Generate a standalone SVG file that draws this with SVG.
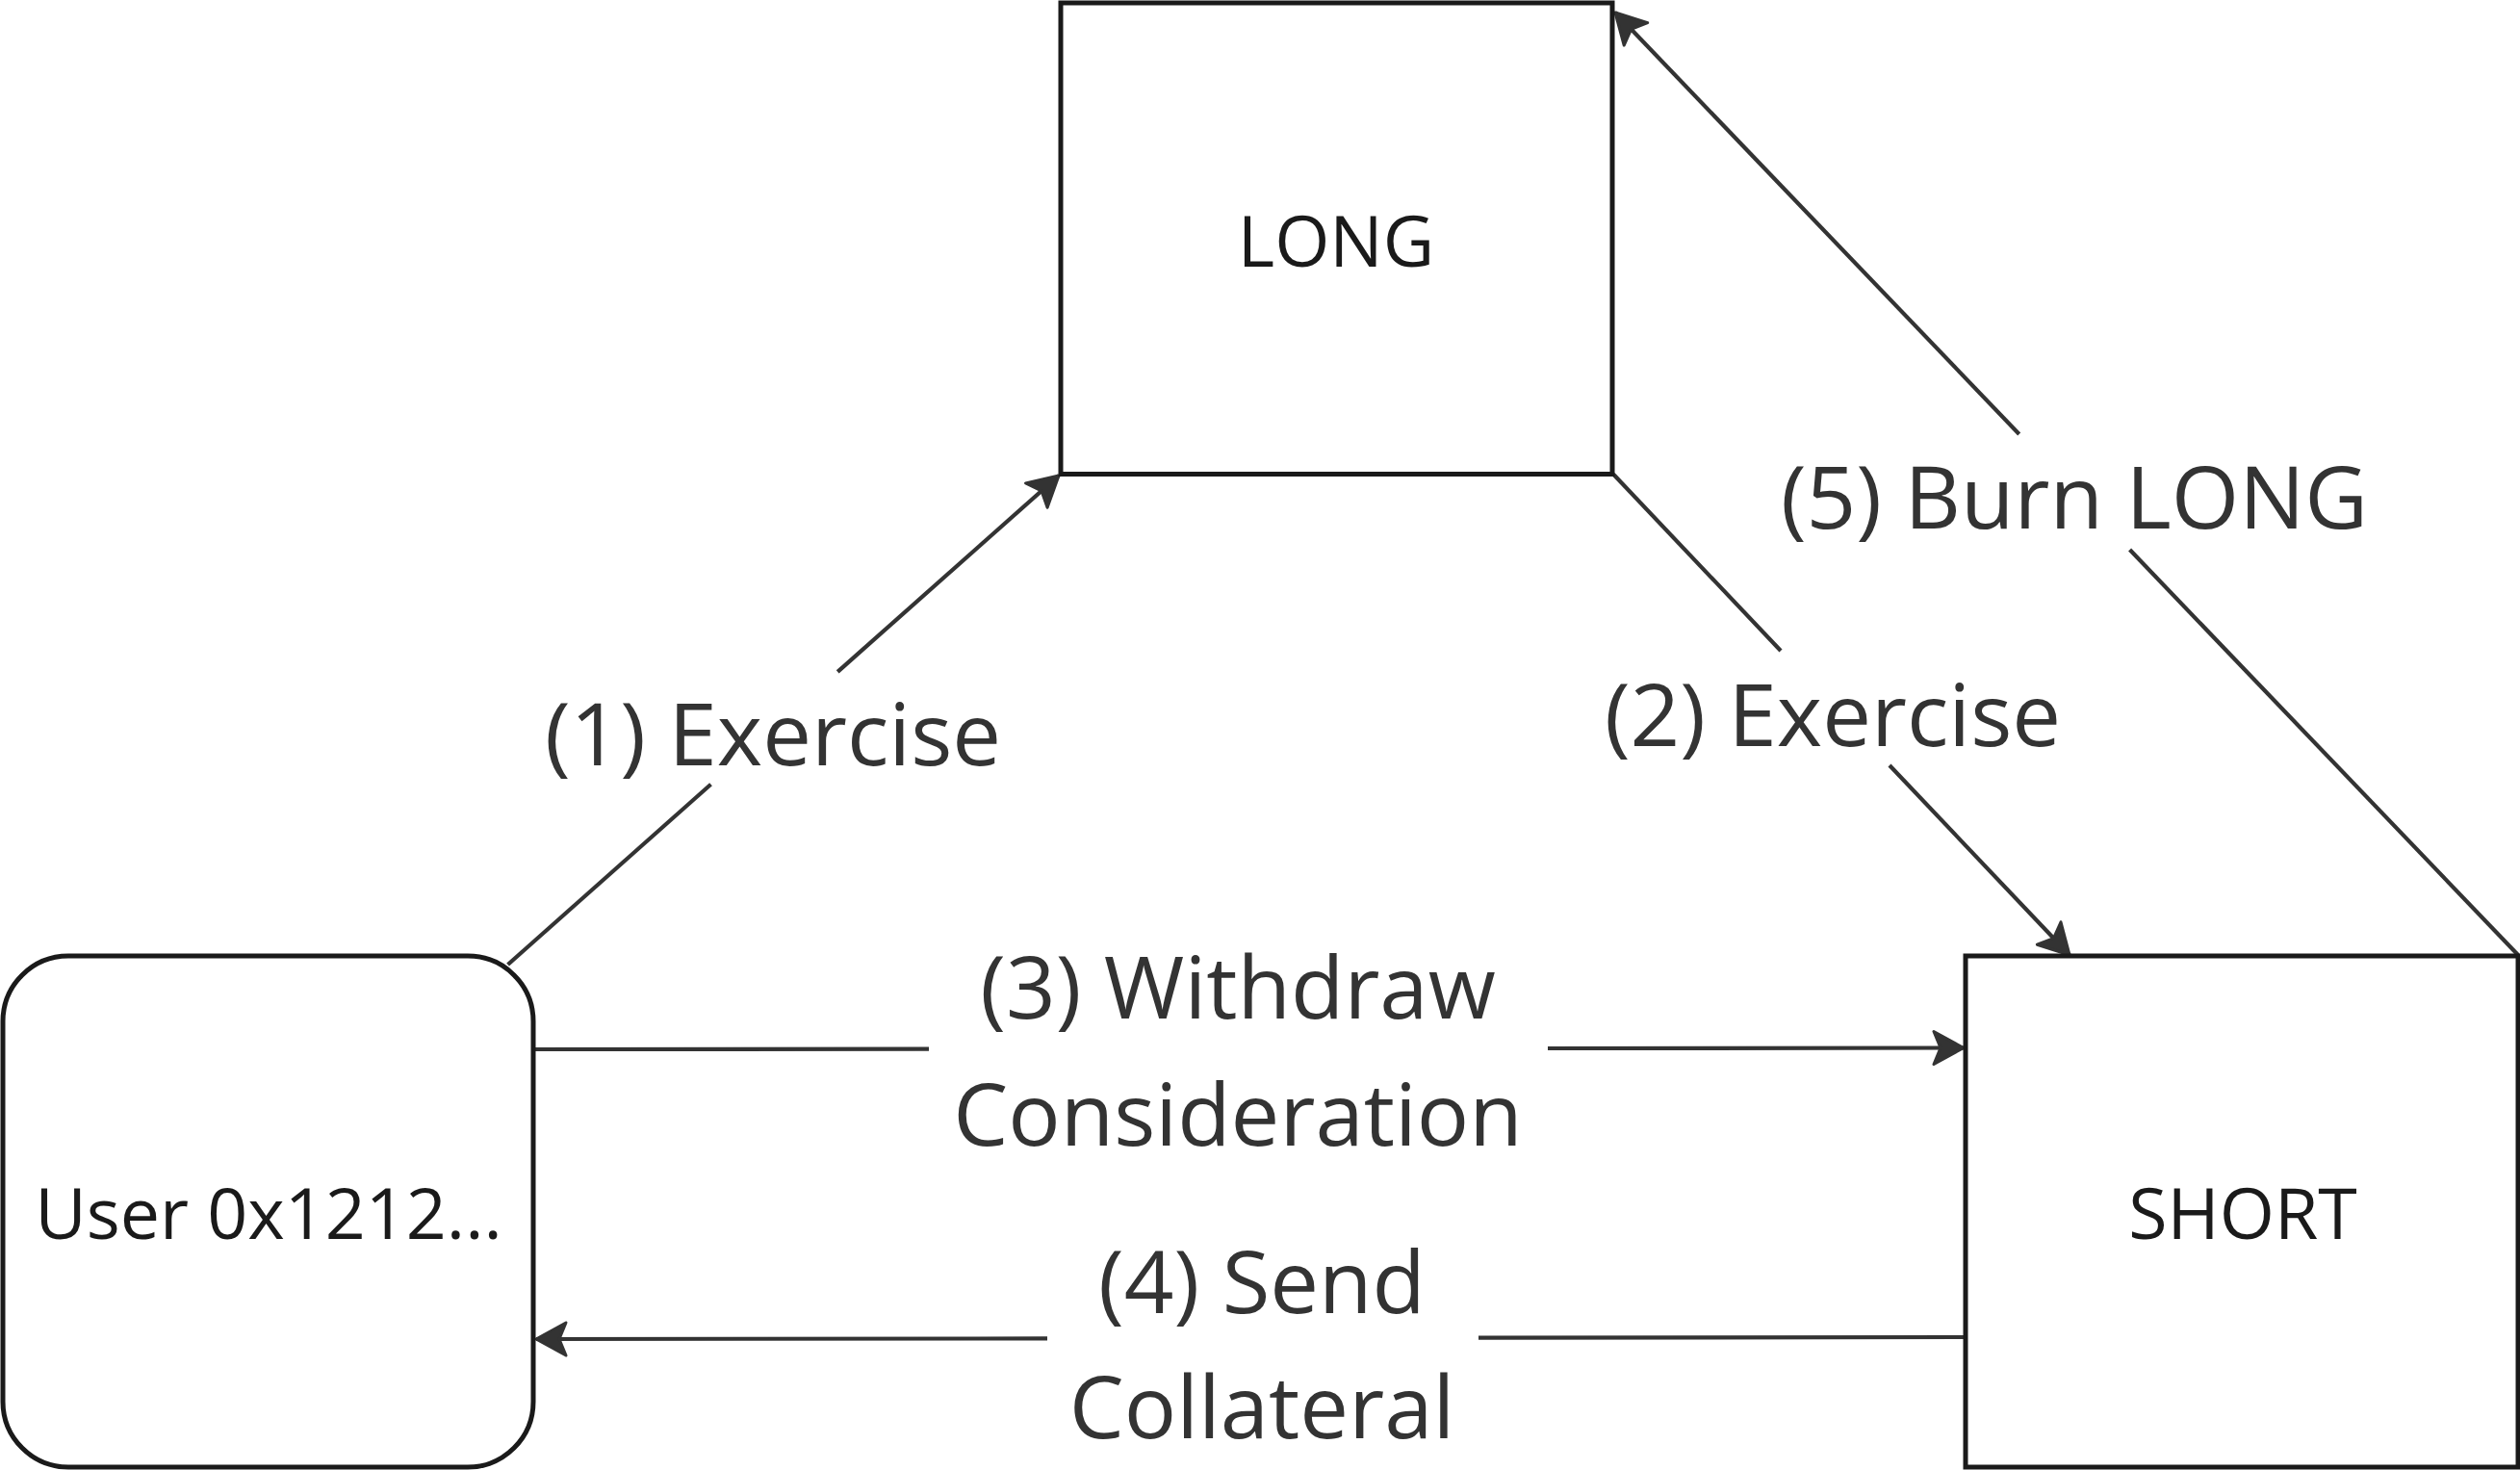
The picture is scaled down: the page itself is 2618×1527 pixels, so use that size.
<svg xmlns="http://www.w3.org/2000/svg" width="2618" height="1527" viewBox="0 0 2618 1527">
<style>
.node{fill:#ffffff;stroke:#1a1a1a;stroke-width:5}
.ntext{font-family:"Open Sans","Noto Sans",sans-serif;font-size:73.5px;fill:#1a1a1a;text-anchor:middle}
.edge{fill:none;stroke:#333333;stroke-width:4.2}
.ltext{font-family:"Open Sans","Noto Sans",sans-serif;font-size:90.5px;fill:#333333;text-anchor:middle}
</style>
<defs>
<marker id="arrow" viewBox="-36 -21 40 42" refX="0" refY="0" markerWidth="40" markerHeight="42" markerUnits="userSpaceOnUse" orient="auto">
<path d="M0,0 L-31,-17 L-24,0 L-31,17 Z" fill="#333333" stroke="#333333" stroke-width="3" stroke-linejoin="round"/>
</marker>
</defs>
<rect width="2618" height="1527" fill="#ffffff"/>
<g id="connectors">
<g id="e1">
<path class="edge" d="M527.6,1002 L738.5,814.8"/>
<path class="edge" d="M870.2,697.9 L1100,494" marker-end="url(#arrow)"/>
<text class="ltext" x="803" y="795">(1) Exercise</text>
</g>
<g id="e2">
<path class="edge" d="M1676,492.5 L1850,676"/>
<path class="edge" d="M1963,795 L2150,992" marker-end="url(#arrow)"/>
<text class="ltext" x="1904" y="775">(2) Exercise</text>
</g>
<g id="e5">
<path class="edge" d="M2616,992 L2212.6,571"/>
<path class="edge" d="M2097.7,451 L1678,13" marker-end="url(#arrow)"/>
<text class="ltext" x="2155" y="549">(5) Burn LONG</text>
</g>
<g id="e3">
<path class="edge" d="M556,1090 L965,1089.7"/>
<path class="edge" d="M1608,1089 L2040,1088.5" marker-end="url(#arrow)"/>
<text class="ltext" x="1286" y="1058">(3) Withdraw</text>
<text class="ltext" x="1286" y="1190">Consideration</text>
</g>
<g id="e4">
<path class="edge" d="M2040,1389 L1536,1389.7"/>
<path class="edge" d="M1088,1390.4 L557,1391" marker-end="url(#arrow)"/>
<text class="ltext" x="1311" y="1364">(4) Send</text>
<text class="ltext" x="1311" y="1494">Collateral</text>
</g>
</g>
<g id="long">
<rect class="node" x="1102" y="3" width="573" height="489.5"/>
<text class="ntext" x="1388" y="277">LONG</text>
</g>
<g id="user">
<rect class="node" x="3" y="993" width="551" height="531" rx="68" ry="68"/>
<text class="ntext" x="279" y="1287">User 0x1212...</text>
</g>
<g id="short">
<rect class="node" x="2042" y="993" width="574" height="531"/>
<text class="ntext" x="2330" y="1287">SHORT</text>
</g>
</svg>
